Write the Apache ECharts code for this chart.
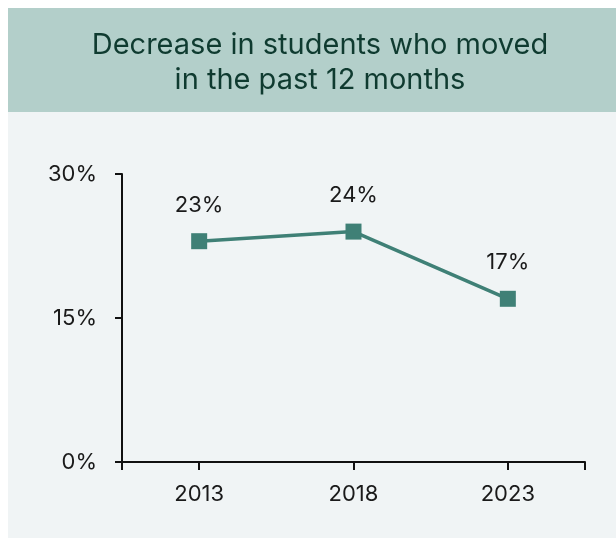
<!DOCTYPE html>
<html>
<head>
<meta charset="utf-8">
<style>
  html, body { margin: 0; padding: 0; background: #ffffff; }
  #chart { width: 616px; height: 538px; }
</style>
<script src="https://cdn.jsdelivr.net/npm/echarts@6/dist/echarts.min.js"></script>
</head>
<body>
<div id="chart"></div>
<script>
// Share of students who moved in the past 12 months, by survey year
const years = ['2013', '2018', '2023'];
const movedPct = [23, 24, 17];
const yTicks = [0, 15, 30];

const FONT = 'Inter, Roboto, "Noto Sans", sans-serif';
const INK = '#1a1a1a';
const TEAL = '#3f8076';

const chart = echarts.init(document.getElementById('chart'), null, { renderer: 'canvas' });

chart.setOption({
  animation: false,
  backgroundColor: '#ffffff',
  graphic: [
    { type: 'rect', z: -10, shape: { x: 8, y: 8, width: 608, height: 530 }, style: { fill: '#f0f4f5' }, silent: true },
    { type: 'rect', z: -9, shape: { x: 8, y: 8, width: 608, height: 104 }, style: { fill: '#b3cfca' }, silent: true }
  ],
  title: {
    text: 'Decrease in students who moved\nin the past 12 months',
    left: 315,
    top: 23,
    textAlign: 'center',
    textStyle: {
      fontFamily: FONT,
      fontSize: 29,
      fontWeight: 'normal',
      color: '#0f3b30',
      lineHeight: 35
    }
  },
  grid: { left: 122, right: 31, top: 174, bottom: 76, containLabel: false },
  xAxis: [
    {
      type: 'category',
      data: years,
      boundaryGap: true,
      axisLine: { show: true, lineStyle: { color: '#111', width: 2 } },
      axisTick: { show: true, alignWithLabel: true, length: 8, lineStyle: { color: '#111', width: 2 } },
      axisLabel: { fontFamily: FONT, fontSize: 22, color: INK, margin: 21 },
      splitLine: { show: false }
    },
    {
      // end ticks at both ends of the horizontal axis
      type: 'value',
      position: 'bottom',
      min: 0,
      max: 1,
      interval: 1,
      axisLine: { show: false },
      axisTick: { show: true, length: 8, lineStyle: { color: '#111', width: 2 } },
      axisLabel: { show: false },
      splitLine: { show: false }
    }
  ],
  yAxis: {
    type: 'value',
    min: yTicks[0],
    max: yTicks[yTicks.length - 1],
    interval: yTicks[1] - yTicks[0],
    axisLine: { show: true, lineStyle: { color: '#111', width: 2 } },
    axisTick: { show: true, length: 7, lineStyle: { color: '#111', width: 2 } },
    axisLabel: { fontFamily: FONT, fontSize: 22, color: INK, margin: 25, formatter: '{value}%' },
    splitLine: { show: false }
  },
  series: [{
    type: 'line',
    xAxisIndex: 0,
    data: movedPct,
    symbol: 'rect',
    symbolSize: 16,
    lineStyle: { color: TEAL, width: 3.5 },
    itemStyle: { color: TEAL },
    label: {
      show: true,
      position: 'top',
      distance: 17,
      formatter: '{c}%',
      fontFamily: FONT,
      fontSize: 22,
      color: INK
    }
  }]
});
</script>
</body>
</html>
